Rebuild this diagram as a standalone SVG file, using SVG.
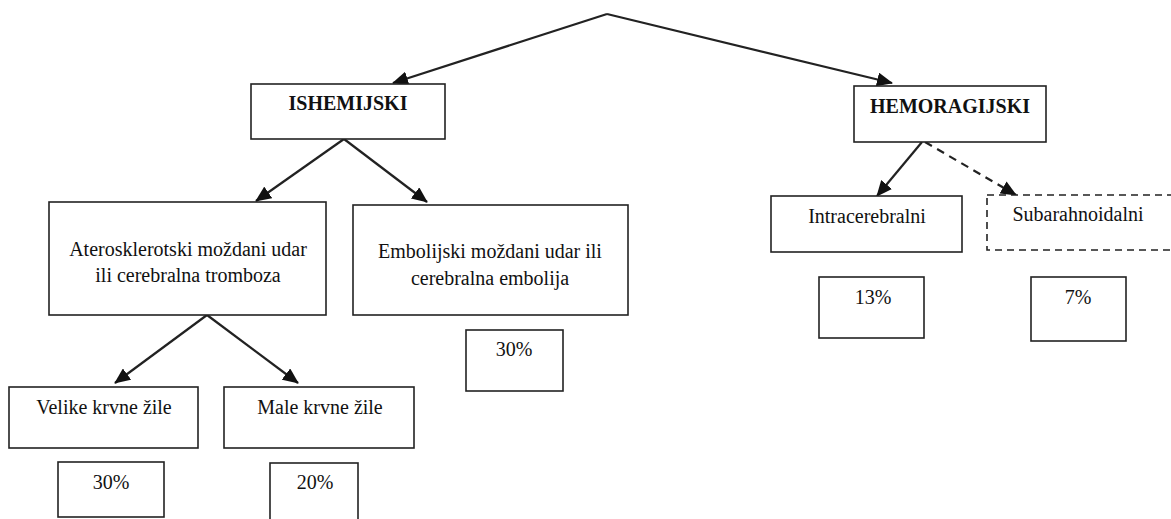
<svg xmlns="http://www.w3.org/2000/svg" width="1171" height="519" viewBox="0 0 1171 519">
<style>
.box{fill:#fff;stroke:#222;stroke-width:1.6}
.dash{fill:#fff;stroke:#222;stroke-width:1.6;stroke-dasharray:7,5}
.t{font-family:"Liberation Serif","Times New Roman",serif;font-size:20px;fill:#111;text-anchor:middle}
.b{font-family:"Liberation Serif","Times New Roman",serif;font-size:20px;font-weight:bold;fill:#111;text-anchor:middle}
.c{fill:none;stroke:#222;stroke-width:2.2}
.cd{fill:none;stroke:#222;stroke-width:2.2;stroke-dasharray:8,6}
</style>
<defs>
<marker id="ah" markerUnits="userSpaceOnUse" markerWidth="16" markerHeight="14" viewBox="0 0 16 14" refX="15" refY="7" orient="auto">
<path d="M0,0 L16,7 L0,14 Z" fill="#111"/>
</marker>
</defs>
<rect width="1171" height="519" fill="#fff"/>
<g id="connectors">
<path class="c" d="M607,14 L393,83" marker-end="url(#ah)"/>
<path class="c" d="M607,14 L892,83" marker-end="url(#ah)"/>
<path class="c" d="M344,139 L256,201" marker-end="url(#ah)"/>
<path class="c" d="M344,139 L427,202" marker-end="url(#ah)"/>
<path class="c" d="M207,315 L115,383" marker-end="url(#ah)"/>
<path class="c" d="M207,315 L298,383" marker-end="url(#ah)"/>
<path class="c" d="M922,142 L877,196" marker-end="url(#ah)"/>
<path class="cd" d="M925,142 L1016,195" marker-end="url(#ah)"/>
</g>
<g id="ishemijski">
<rect class="box" x="251" y="84" width="194" height="55"/>
<text class="b" x="348" y="110">ISHEMIJSKI</text>
</g>
<g id="hemoragijski">
<rect class="box" x="854" y="86" width="192" height="56"/>
<text class="b" x="950" y="113">HEMORAGIJSKI</text>
</g>
<g id="aterosklerotski">
<rect class="box" x="49" y="202" width="277" height="113"/>
<text class="t" x="188" y="256">Aterosklerotski moždani udar</text>
<text class="t" x="188" y="282">ili cerebralna tromboza</text>
</g>
<g id="embolijski">
<rect class="box" x="353" y="205" width="275" height="110"/>
<text class="t" x="490" y="258">Embolijski moždani udar ili</text>
<text class="t" x="490" y="285">cerebralna embolija</text>
</g>
<g id="embolijski-pct">
<rect class="box" x="466" y="330" width="97" height="61"/>
<text class="t" x="514" y="356">30%</text>
</g>
<g id="velike">
<rect class="box" x="9" y="387" width="189" height="61"/>
<text class="t" x="104" y="414">Velike krvne žile</text>
</g>
<g id="male">
<rect class="box" x="224" y="387" width="190" height="61"/>
<text class="t" x="320" y="414">Male krvne žile</text>
</g>
<g id="velike-pct">
<rect class="box" x="58" y="462" width="106" height="55"/>
<text class="t" x="111" y="489">30%</text>
</g>
<g id="male-pct">
<rect class="box" x="270" y="463" width="88" height="60"/>
<text class="t" x="315" y="489">20%</text>
</g>
<g id="intracerebralni">
<rect class="box" x="771" y="196" width="191" height="56"/>
<text class="t" x="867" y="223">Intracerebralni</text>
</g>
<g id="subarahnoidalni">
<rect class="dash" x="987" y="195" width="190" height="55"/>
<text class="t" x="1078" y="221">Subarahnoidalni</text>
</g>
<g id="intracerebralni-pct">
<rect class="box" x="819" y="277" width="105" height="61"/>
<text class="t" x="873" y="304">13%</text>
</g>
<g id="subarahnoidalni-pct">
<rect class="box" x="1031" y="277" width="95" height="64"/>
<text class="t" x="1078" y="304">7%</text>
</g>
</svg>
